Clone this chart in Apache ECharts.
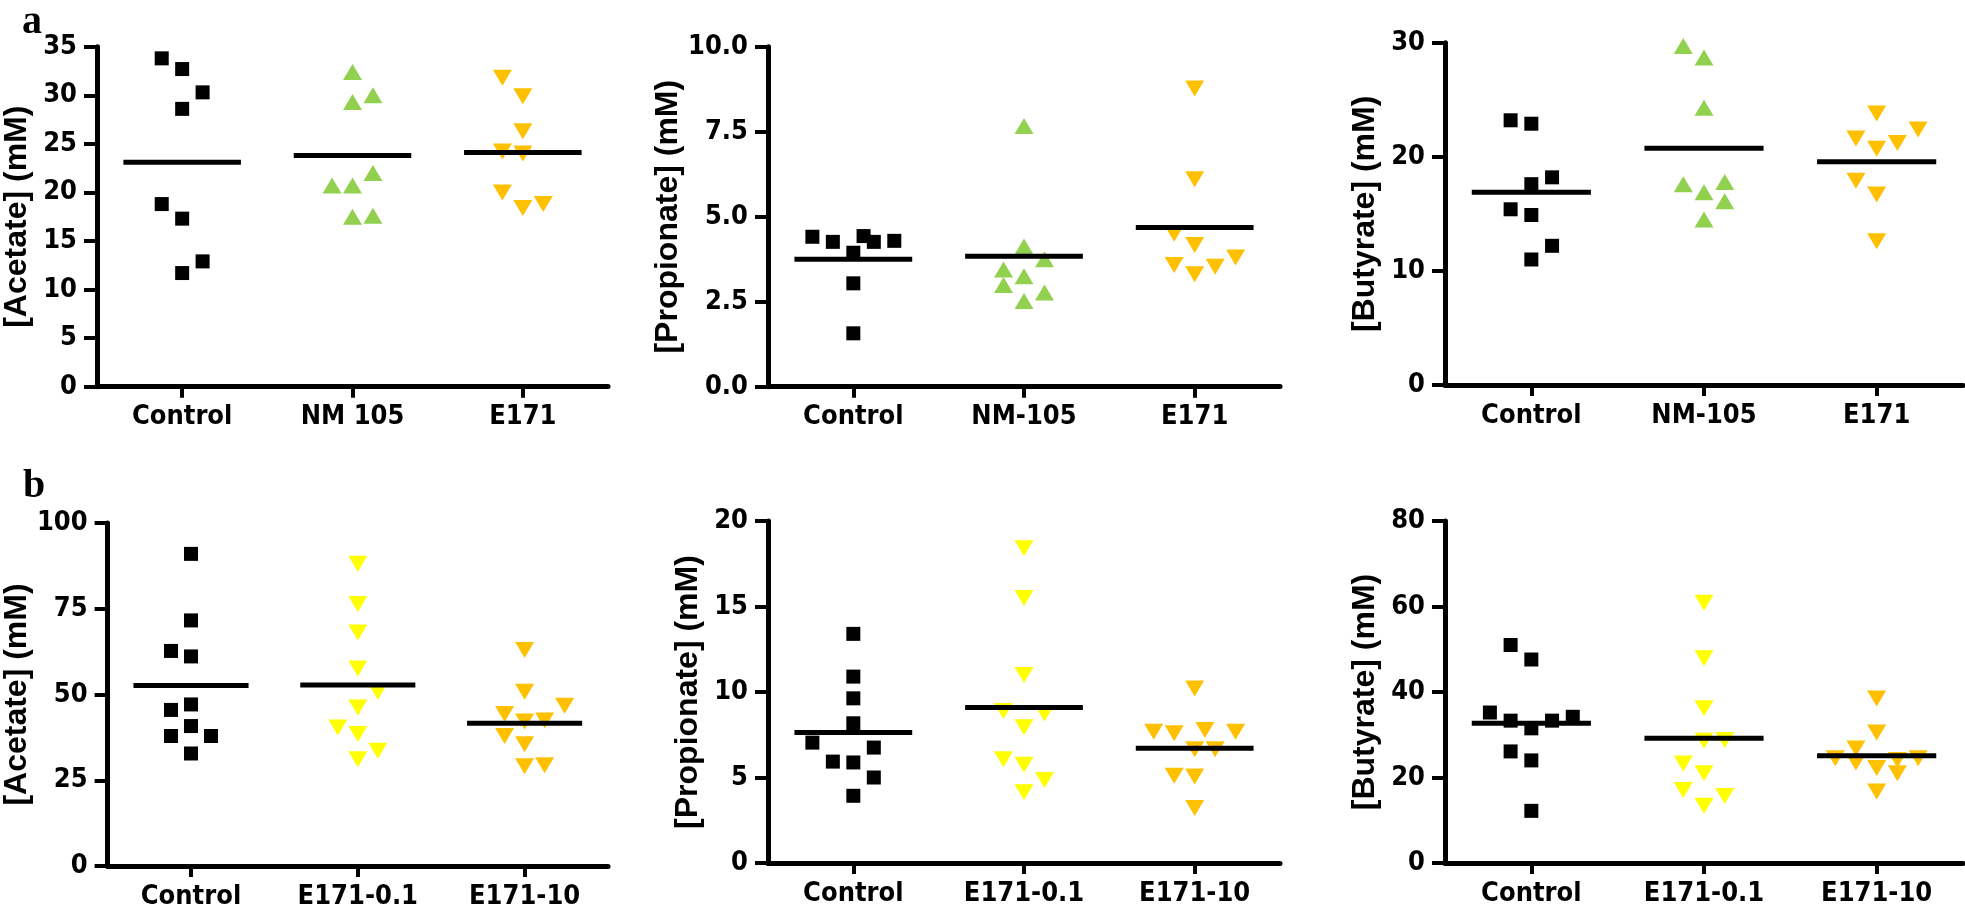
<!DOCTYPE html>
<html><head><meta charset="utf-8">
<script src="https://cdn.jsdelivr.net/npm/echarts@6/dist/echarts.min.js"></script>
<style>html,body{margin:0;padding:0;background:#fff}#c{width:1965px;height:912px}</style>
</head><body><div id="c"></div>
<script>
// ---------- categories ----------
const catsA1 = ['Control', 'NM 105', 'E171'];
const catsA = ['Control', 'NM-105', 'E171'];
const catsB = ['Control', 'E171-0.1', 'E171-10'];

// ---------- y-axis ticks ----------
const yMaxA = [35, 10, 30];
const yStepA = [5, 2.5, 10];
const yMaxB = [100, 20, 80];
const yStepB = [25, 5, 20];

// ---------- titles ----------
const titlesY = ['[Acetate] (mM)', '[Propionate] (mM)', '[Butyrate] (mM)'];

// ---------- panel a : acetate ----------
const acetateA_control = [33.8, 32.7, 30.3, 28.6, 18.8, 17.3, 12.9, 11.7];
const acetateA_control_col = [-1, 0, 1, 0, -1, 0, 1, 0];
const acetateA_nm = [32.4, 29.3, 30.0, 22.0, 20.7, 20.7, 17.5, 17.6];
const acetateA_nm_col = [0, 0, 1, 1, -1, 0, 0, 1];
const acetateA_e171 = [31.8, 29.9, 26.3, 24.2, 24.0, 20.0, 18.4, 18.8];
const acetateA_e171_col = [-1, 0, 0, -1, 0, -1, 0, 1];
const acetateA_means = [23.1, 23.8, 24.1];

// ---------- panel a : propionate ----------
const propA_control = [4.41, 4.26, 4.43, 4.26, 4.29, 3.94, 3.04, 1.57];
const propA_control_col = [-2, -1, 0.5, 1, 2, 0, 0, 0];
const propA_nm = [7.67, 4.12, 3.75, 3.45, 3.25, 2.99, 2.77, 2.52];
const propA_nm_col = [0, 0, 1, -1, 0, -1, 1, 0];
const propA_e171 = [8.77, 6.1, 4.5, 4.17, 3.58, 3.8, 3.53, 3.31];
const propA_e171_col = [0, 0, -1, 0, -1, 2, 1, 0];
const propA_means = [3.75, 3.84, 4.68];

// ---------- panel a : butyrate ----------
const butA_control = [23.2, 22.9, 18.2, 17.6, 15.4, 14.9, 12.2, 11.0];
const butA_control_col = [-1, 0, 1, 0, -1, 0, 1, 0];
const butA_nm = [29.7, 28.7, 24.3, 17.6, 17.8, 16.9, 16.1, 14.5];
const butA_nm_col = [-1, 0, 0, -1, 1, 0, 1, 0];
const butA_e171 = [23.8, 22.4, 21.6, 21.2, 20.7, 17.9, 16.7, 12.6];
const butA_e171_col = [0, 2, -1, 1, 0, -1, 0, 0];
const butA_means = [16.9, 20.76, 19.57];

// ---------- panel b : acetate ----------
const acetateB_control = [91.0, 71.6, 62.7, 61.1, 47.1, 45.5, 40.8, 37.9, 37.9, 32.8];
const acetateB_control_col = [0, 0, -1, 0, 0, -1, 0, -1, 1, 0];
const acetateB_low = [88.1, 76.4, 68.1, 57.6, 50.8, 46.2, 40.4, 38.5, 33.6, 31.1];
const acetateB_low_col = [0, 0, 0, 0, 1, 0, -1, 0, 1, 0];
const acetateB_high = [63.0, 50.8, 46.7, 44.3, 42.1, 42.4, 37.9, 35.5, 29.1, 29.4];
const acetateB_high_col = [0, 0, 2, -1, 0, 1, -1, 0, 0, 1];
const acetateB_means = [52.6, 52.8, 41.6];

// ---------- panel b : propionate ----------
const propB_control = [13.4, 10.9, 9.63, 8.17, 7.04, 6.75, 5.93, 5.88, 5.0, 3.93];
const propB_control_col = [0, 0, 0, 0, -2, 1, -1, 0, 1, 0];
const propB_low = [18.4, 15.5, 11.0, 8.89, 8.75, 7.94, 6.07, 5.74, 4.86, 4.14];
const propB_low_col = [0, 0, 0, -1, 1, 0, -1, 0, 1, 0];
const propB_high = [10.2, 7.68, 7.59, 7.78, 7.68, 6.65, 6.65, 5.1, 5.06, 3.21];
const propB_high_col = [0, -2, -1, 0.5, 2, 0, 1, -1, 0, 0];
const propB_means = [7.63, 9.09, 6.71];

// ---------- panel b : butyrate ----------
const butB_control = [51.0, 47.6, 35.2, 34.2, 33.3, 33.3, 31.5, 26.1, 24.0, 12.2];
const butB_control_col = [-1, 0, -2, 2, -1, 1, 0, -1, 0, 0];
const butB_low = [60.9, 47.9, 36.2, 28.6, 28.8, 23.3, 21.0, 17.1, 15.7, 13.4];
const butB_low_col = [0, 0, 0, 0, 1, -1, 0, -1, 1, 0];
const butB_high = [38.5, 30.5, 26.8, 24.5, 24.5, 24.1, 23.5, 22.2, 21.0, 16.7];
const butB_high_col = [0, 0, -1, -2, 2, 1, -1, 0, 1, 0];
const butB_means = [32.7, 29.2, 25.1];

// ---------- styling ----------
const BLACK = '#000000', GREEN = '#92D050', ORANGE = '#FFC000', YELLOW = '#FFFF00';
const JIT = 0.12;       // column spacing in category units
const HALF = 0.345;     // half width of mean bar in category units
const tickFont = "'Liberation Sans Narrow','Arial Narrow','DejaVu Sans Condensed','Liberation Sans',sans-serif";
const titleFont = "'Liberation Sans',Arial,sans-serif";

const SQ = {symbol: 'rect', symbolSize: 14, symbolRotate: 0};
const UP = {symbol: 'triangle', symbolSize: [19, 16], symbolRotate: 0};
const DOWN = {symbol: 'triangle', symbolSize: [19, 16], symbolRotate: 180};

const panels = [
  {grid: {left: 97, top: 46.7, width: 511, height: 340}, cats: catsA1, max: yMaxA[0], step: yStepA[0], dec: 0, title: titlesY[0],
   groups: [[acetateA_control, acetateA_control_col, SQ, BLACK], [acetateA_nm, acetateA_nm_col, UP, GREEN], [acetateA_e171, acetateA_e171_col, DOWN, ORANGE]], means: acetateA_means},
  {grid: {left: 768, top: 46.7, width: 512, height: 340}, cats: catsA, max: yMaxA[1], step: yStepA[1], dec: 1, title: titlesY[1],
   groups: [[propA_control, propA_control_col, SQ, BLACK], [propA_nm, propA_nm_col, UP, GREEN], [propA_e171, propA_e171_col, DOWN, ORANGE]], means: propA_means},
  {grid: {left: 1445, top: 42.7, width: 518, height: 342.3}, cats: catsA, max: yMaxA[2], step: yStepA[2], dec: 0, title: titlesY[2],
   groups: [[butA_control, butA_control_col, SQ, BLACK], [butA_nm, butA_nm_col, UP, GREEN], [butA_e171, butA_e171_col, DOWN, ORANGE]], means: butA_means},
  {grid: {left: 97, top: 523, width: 511, height: 343}, cats: catsB, max: yMaxB[0], step: yStepB[0], dec: 0, title: titlesY[0],
   groups: [[acetateB_control, acetateB_control_col, SQ, BLACK], [acetateB_low, acetateB_low_col, DOWN, YELLOW], [acetateB_high, acetateB_high_col, DOWN, ORANGE]], means: acetateB_means},
  {grid: {left: 768, top: 521, width: 512, height: 342}, cats: catsB, max: yMaxB[1], step: yStepB[1], dec: 0, title: titlesY[1],
   groups: [[propB_control, propB_control_col, SQ, BLACK], [propB_low, propB_low_col, DOWN, YELLOW], [propB_high, propB_high_col, DOWN, ORANGE]], means: propB_means},
  {grid: {left: 1445, top: 521, width: 518, height: 342}, cats: catsB, max: yMaxB[2], step: yStepB[2], dec: 0, title: titlesY[2],
   groups: [[butB_control, butB_control_col, SQ, BLACK], [butB_low, butB_low_col, DOWN, YELLOW], [butB_high, butB_high_col, DOWN, ORANGE]], means: butB_means}
];

const grid = [], xAxis = [], yAxis = [], series = [];
panels.forEach((p, i) => {
  grid.push(Object.assign({containLabel: false}, p.grid));
  xAxis.push({
    gridIndex: i, type: 'category', data: p.cats, boundaryGap: true,
    axisLine: {show: true, onZero: false, lineStyle: {color: BLACK, width: 5}},
    axisTick: {show: true, alignWithLabel: true, length: 11, lineStyle: {color: BLACK, width: 4}},
    axisLabel: {color: BLACK, fontWeight: 'bold', fontSize: 27, fontFamily: tickFont, margin: 17, interval: 0},
    splitLine: {show: false}
  });
  xAxis.push({gridIndex: i, type: 'value', min: -0.5, max: 2.5, show: false});
  yAxis.push({
    gridIndex: i, type: 'value', min: 0, max: p.max, interval: p.step,
    axisLine: {show: true, onZero: false, lineStyle: {color: BLACK, width: 5}},
    axisTick: {show: true, length: 13, lineStyle: {color: BLACK, width: 4}},
    axisLabel: {color: BLACK, fontWeight: 'bold', fontSize: 27, fontFamily: tickFont, margin: 20,
      formatter: v => Number(v).toFixed(p.dec)},
    splitLine: {show: false},
    name: p.title, nameLocation: 'middle', nameGap: 64, nameRotate: 90,
    nameTextStyle: {color: BLACK, fontWeight: 700, fontSize: 32, fontFamily: titleFont}
  });
  p.groups.forEach((g, gi) => {
    const [vals, cols, sym, color] = g;
    series.push(Object.assign({
      type: 'scatter', xAxisIndex: 2 * i + 1, yAxisIndex: i,
      data: vals.map((v, k) => [gi + cols[k] * JIT, v]),
      itemStyle: {color: color, opacity: 1}, z: 2, silent: true
    }, sym));
  });
  series.push({
    type: 'custom', xAxisIndex: 2 * i + 1, yAxisIndex: i, z: 5, silent: true,
    data: p.means.map((m, k) => [k, m]),
    renderItem: (params, api) => {
      const x = api.value(0), m = api.value(1);
      const a = api.coord([x - HALF, m]);
      const b = api.coord([x + HALF, m]);
      return {type: 'line', shape: {x1: a[0], y1: a[1], x2: b[0], y2: b[1]}, style: {stroke: BLACK, lineWidth: 5}};
    }
  });
});

const chart = echarts.init(document.getElementById('c'), null, {renderer: 'canvas'});
chart.setOption({
  animation: false,
  backgroundColor: '#ffffff',
  grid, xAxis, yAxis, series,
  graphic: [
    {type: 'text', style: {x: 22, y: 23, text: 'a', fill: BLACK, font: "bold 40px 'Liberation Serif', serif", verticalAlign: 'middle'}},
    {type: 'text', style: {x: 23, y: 487, text: 'b', fill: BLACK, font: "bold 40px 'Liberation Serif', serif", verticalAlign: 'middle'}}
  ]
});
</script></body></html>
